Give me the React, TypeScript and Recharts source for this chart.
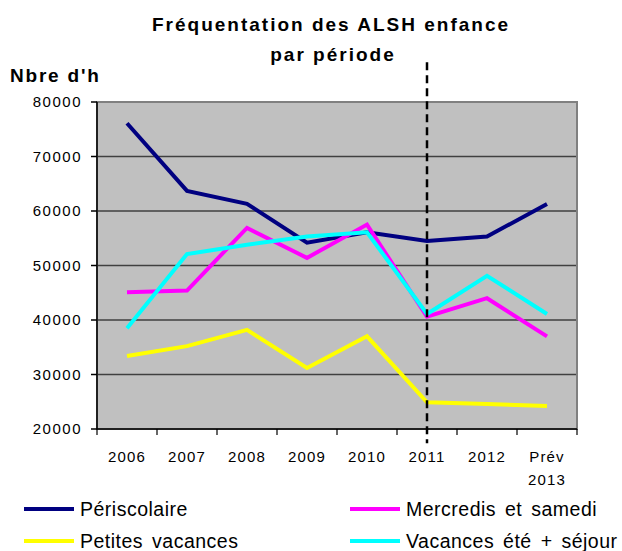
import {
  CartesianGrid,
  Legend,
  Line,
  LineChart,
  ReferenceArea,
  ReferenceLine,
  XAxis,
  YAxis,
} from "recharts";

const years = ["2006", "2007", "2008", "2009", "2010", "2011", "2012", "Prév 2013"];
const periscolaire = [76100, 63700, 61300, 54200, 56100, 54500, 55300, 61300];
const mercredis = [45100, 45400, 56900, 51400, 57500, 40600, 44000, 37000];
const petitesVacances = [33400, 35200, 38200, 31200, 37000, 24900, 24600, 24200];
const vacancesEte = [38500, 52100, 53800, 55300, 56100, 41100, 48100, 41100];
const yTicks = [20000, 30000, 40000, 50000, 60000, 70000, 80000];

const FONT = '"Liberation Sans", Arial, sans-serif';

const SERIES = [
  { key: "periscolaire", name: "Périscolaire", color: "#000080" },
  { key: "mercredis", name: "Mercredis et samedi", color: "#FF00FF" },
  { key: "petites", name: "Petites vacances", color: "#FFFF00" },
  { key: "ete", name: "Vacances été + séjour", color: "#00FFFF" },
];

const data = years.map((year, i) => ({
  year,
  periscolaire: periscolaire[i],
  mercredis: mercredis[i],
  petites: petitesVacances[i],
  ete: vacancesEte[i],
}));

const BAND = 60;

function YearTick(props: any) {
  const { x, y, payload, index } = props;
  const lines = String(payload.value).split(" ");
  return (
    <g>
      <line x1={x - BAND / 2} x2={x - BAND / 2} y1={y} y2={y + 6} stroke="#000" strokeWidth={1.2} />
      {index === years.length - 1 && (
        <line x1={x + BAND / 2} x2={x + BAND / 2} y1={y} y2={y + 6} stroke="#000" strokeWidth={1.2} />
      )}
      {lines.map((l, i) => (
        <text
          key={l}
          x={x}
          y={y + 33 + i * 23}
          textAnchor="middle"
          fontSize={15}
          letterSpacing={1.2}
          fontFamily={FONT}
          fill="#000"
        >
          {l}
        </text>
      ))}
    </g>
  );
}

function LegendBlock() {
  // keep the original series order (Recharts sorts the legend payload)
  return (
    <svg width={622} height={61} style={{ display: "block" }}>
      {SERIES.map((it, i) => {
        const col = i % 2;
        const row = Math.floor(i / 2);
        const lx = col === 0 ? 24 : 350;
        const cy = row === 0 ? 19 : 51;
        return (
          <g key={it.key}>
            <line x1={lx} x2={lx + 50} y1={cy} y2={cy} stroke={it.color} strokeWidth={4} />
            <text
              x={lx + 56}
              y={cy + 7}
              fontSize={19.5}
              letterSpacing={0.5}
              wordSpacing={3}
              fontFamily={FONT}
              fill="#000"
            >
              {it.name}
            </text>
          </g>
        );
      })}
    </svg>
  );
}

export default function App() {
  return (
    <div style={{ position: "absolute", left: 0, top: 0, width: 622, height: 551, background: "#fff" }}>
      <LineChart
        width={622}
        height={551}
        data={data}
        margin={{ top: 102, right: 45, left: 17, bottom: 82 }}
      >
        <CartesianGrid
          vertical={false}
          fill="#C0C0C0"
          fillOpacity={1}
          stroke="#404040"
          strokeWidth={1.5}
        />
        <ReferenceArea
          x1="2006"
          x2="Prév 2013"
          y1={20000}
          y2={80000}
          fill="none"
          stroke="#808080"
          strokeWidth={2}
        />
        <XAxis
          dataKey="year"
          scale="band"
          height={40}
          stroke="#000"
          strokeWidth={1.5}
          tickLine={false}
          tickSize={0}
          tickMargin={0}
          interval={0}
          tick={<YearTick />}
        />
        <YAxis
          width={80}
          domain={[20000, 80000]}
          ticks={yTicks}
          stroke="#000"
          strokeWidth={1.5}
          tickSize={6}
          tickMargin={9}
          tick={{ fontSize: 15, fill: "#000", fontFamily: FONT, letterSpacing: 1.5 }}
        />
        {SERIES.map((s) => (
          <Line
            key={s.key}
            type="linear"
            dataKey={s.key}
            name={s.name}
            stroke={s.color}
            strokeWidth={4}
            dot={false}
            activeDot={false}
            isAnimationActive={false}
          />
        ))}
        <ReferenceLine
          segment={[
            { x: "2011", y: 87300 },
            { x: "2011", y: 17400 },
          ]}
          ifOverflow="visible"
          stroke="#000"
          strokeWidth={2.5}
          strokeDasharray="8 5"
        />
        <Legend
          layout="horizontal"
          verticalAlign="middle"
          align="center"
          content={<LegendBlock />}
          wrapperStyle={{ position: "absolute", left: 0, top: 490, width: 622, height: 61 }}
        />
      </LineChart>
      <svg
        width={622}
        height={100}
        style={{ position: "absolute", left: 0, top: 0, pointerEvents: "none" }}
      >
        <text
          x={331}
          y={31}
          textAnchor="middle"
          fontSize={19}
          fontWeight="bold"
          letterSpacing={2}
          fontFamily={FONT}
        >
          Fréquentation des ALSH enfance
        </text>
        <text
          x={333}
          y={61}
          textAnchor="middle"
          fontSize={19}
          fontWeight="bold"
          letterSpacing={2}
          fontFamily={FONT}
        >
          par période
        </text>
        <text x={10} y={82} fontSize={19} fontWeight="bold" letterSpacing={1.8} fontFamily={FONT}>
          Nbre d'h
        </text>
      </svg>
    </div>
  );
}
